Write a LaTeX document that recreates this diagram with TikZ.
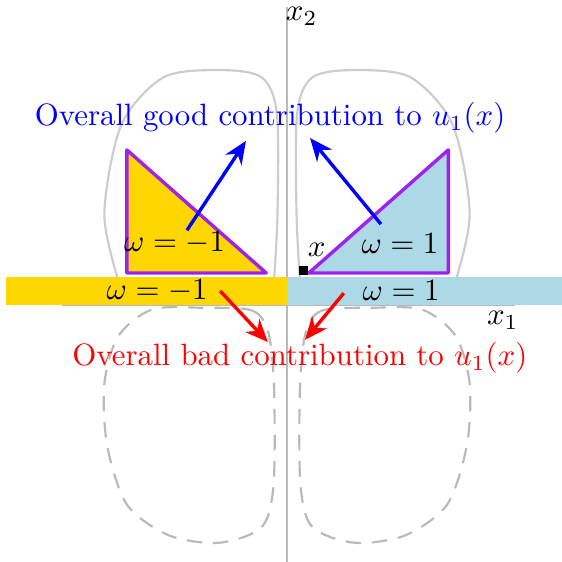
\documentclass[tikz,border=0pt]{standalone}
\usetikzlibrary{arrows.meta,calc}
\definecolor{goldfill}{RGB}{255,215,0}
\definecolor{bluefill}{RGB}{173,216,230}
\definecolor{tripurple}{RGB}{160,32,240}

\begin{document}
\begin{tikzpicture}[x=0.64cm, y=0.64cm,
  axis/.style={gray!55, line width=0.5pt},
  level/.style={gray!40, line width=0.7pt},
  levelneg/.style={gray!55, line width=0.7pt, dash pattern=on 5pt off 3.5pt},
  tri/.style={draw=tripurple, line width=1.1pt, line join=round},
  arrow/.style={-{Stealth[length=2.6mm, width=2.2mm]}, line width=1.1pt},
]
\useasboundingbox (-5.107,-4.573) rectangle (4.893,5.427);

% === AXES ===
\draw[axis] (-4,0) -- (4.06,0);
\draw[axis] (0,-4.6) -- (0,5.3);
\node (xone) at (3.84,-0.27) {$x_1$};
\node (xtwo) at (0.26,5.14) {$x_2$};

% === LEVEL CURVES (solid above, dashed below) ===
\draw[level] plot[smooth] coordinates {(-2.96,0.3) (-3.25,1.6) (-2.95,3.2) (-2.2,4.05) (-1.2,4.18) (-0.45,4.05) (-0.18,3.4) (-0.17,1.6) (-0.24,0.3)};
\draw[level] plot[smooth] coordinates {(2.96,0.3) (3.25,1.6) (2.95,3.2) (2.2,4.05) (1.2,4.18) (0.45,4.05) (0.18,3.4) (0.17,1.6) (0.24,0.3)};
\draw[levelneg] plot[smooth cycle] coordinates {(-1.5,-0.05) (-0.62,-0.1) (-0.33,-0.5) (-0.23,-1.5) (-0.24,-3.2) (-0.45,-3.95) (-1.2,-4.23) (-2.1,-4.1) (-2.85,-3.55) (-3.2,-2.5) (-3.25,-1.4) (-3.0,-0.55) (-2.4,-0.08)};
\draw[levelneg] plot[smooth cycle] coordinates {(1.5,-0.05) (0.62,-0.1) (0.33,-0.5) (0.23,-1.5) (0.24,-3.2) (0.45,-3.95) (1.2,-4.23) (2.1,-4.1) (2.85,-3.55) (3.2,-2.5) (3.25,-1.4) (3.0,-0.55) (2.4,-0.08)};

% === BOUNDARY STRIPS ===
\fill[goldfill] (-5,0) rectangle (0,0.5);
\fill[bluefill] (0,0) rectangle (5,0.5);
\node (negstrip) at (-2.31,0.25) {$\omega=-1$};
\node (posstrip) at (2.03,0.25) {$\omega=1$};

% === TRIANGLES ===
\filldraw[tri, fill=goldfill] (-2.85,0.57) -- (-2.85,2.76) -- (-0.37,0.57) -- cycle;
\filldraw[tri, fill=bluefill] (0.39,0.57) -- (2.87,0.57) -- (2.87,2.76) -- cycle;
\node (negtri) at (-2.0,1.10) {$\omega=-1$};
\node (postri) at (2.01,1.10) {$\omega=1$};

\node[fill=black, inner sep=0pt, minimum size=3pt] (pt) at (0.29,0.61) {};
\node (ptlabel) at (0.53,0.98) {$x$};

% === CONTRIBUTIONS ===
\node[text=blue] (good) at (-0.30,3.33) {Overall good contribution to $u_1(x)$};
\node[text=red] (bad) at (0.23,-0.94) {Overall bad contribution to $u_1(x)$};

\coordinate (goodL) at (-1.78,1.33);
\coordinate (goodLend) at (-0.73,2.92);
\coordinate (goodR) at (1.67,1.44);
\coordinate (goodRend) at (0.41,2.97);
\draw[arrow, blue] (goodL) -- (goodLend);
\draw[arrow, blue] (goodR) -- (goodRend);

\coordinate (badL) at (-1.19,0.25);
\coordinate (badLend) at (-0.34,-0.66);
\coordinate (badR) at (1.01,0.21);
\coordinate (badRend) at (0.32,-0.62);
\draw[arrow, red] (badL) -- (badLend);
\draw[arrow, red] (badR) -- (badRend);
\end{tikzpicture}
\end{document}
